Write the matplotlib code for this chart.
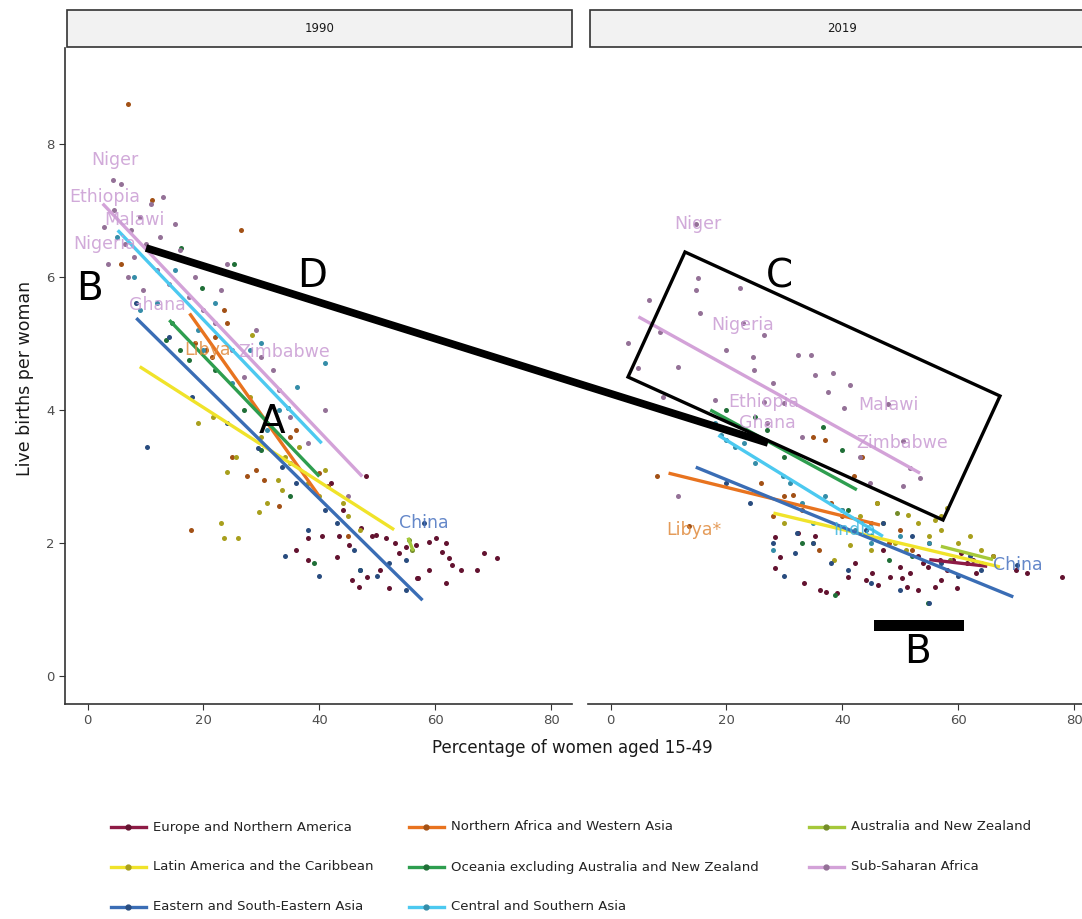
import matplotlib
matplotlib.use("Agg")
import matplotlib.pyplot as plt
import matplotlib.colors as mcolors
from matplotlib.lines import Line2D
from matplotlib.patches import Rectangle, Polygon

# ---- data (x = % of women aged 15-49, y = live births per woman)
regions = ["Europe and Northern America", "Northern Africa and Western Asia",
           "Australia and New Zealand", "Latin America and the Caribbean",
           "Oceania excluding Australia and New Zealand", "Sub-Saharan Africa",
           "Eastern and South-Eastern Asia", "Central and Southern Asia"]
colors = ["#8E1B45", "#E8731F", "#A5C83A", "#F0E32A",
          "#2E9E4F", "#D3A2D8", "#3A6DB5", "#4CC9F0"]

europe_1990 = [(38, 2.07), (40.5, 2.1), (43.4, 2.1), (45.2, 1.97), (47.2, 2.22), (49, 2.1),
               (49.8, 2.12), (51.5, 2.07), (43.1, 1.79), (38, 1.74), (45.7, 1.44), (46.9, 1.34),
               (48.3, 1.49), (52, 1.32), (56.9, 1.47), (53.8, 1.85), (55, 1.94), (56.7, 1.97),
               (59, 2.02), (60.2, 2.07), (61.9, 2.0), (61.2, 1.87), (62.4, 1.77), (62.9, 1.67),
               (64.5, 1.6), (59, 1.6), (61.9, 1.4), (68.4, 1.85), (70.7, 1.77), (67.2, 1.6),
               (57, 1.47), (48, 3.0), (44, 2.5), (42, 2.9), (36, 1.9), (50.5, 1.6), (53, 2.0)]
nawa_1990 = [(6.9, 8.6), (26.5, 6.7), (11.2, 7.15), (5.8, 6.2), (23.5, 5.5), (24, 5.3),
             (20.5, 4.9), (21.5, 4.8), (18.5, 5.0), (29, 3.1), (30.5, 2.95), (27.5, 3.0),
             (35, 3.6), (36, 3.7), (40, 3.05), (41.5, 2.85), (17.9, 2.2), (25, 3.3),
             (33, 2.55), (45, 2.1), (22, 5.1)]
ausnz_1990 = [(55.5, 2.05), (56, 1.9)]
latin_1990 = [(21.6, 3.9), (25.6, 3.3), (24, 3.07), (29.6, 2.47), (32.8, 2.95), (23.6, 2.07),
              (25.9, 2.07), (23, 2.3), (36.5, 3.45), (37.4, 3.05), (28.4, 5.13), (31, 2.6),
              (33.5, 2.8), (35, 3.2), (38, 2.9), (40, 2.7), (44, 2.6), (45, 2.4), (47, 2.2),
              (41, 3.1), (30, 3.6), (34, 3.3), (28, 4.2), (19, 3.8)]
oceania_1990 = [(16.2, 6.43), (19.8, 5.83), (13.5, 5.05), (14.5, 5.3), (16, 4.9), (17.5, 4.75),
                (25.3, 6.2), (22, 4.6), (27, 4.0), (30, 3.4), (35, 2.7), (39, 1.7), (47, 1.6)]
ssa_1990 = [(2.9, 6.75), (4.4, 7.46), (5.8, 7.4), (3.5, 6.2), (4.5, 7.0), (6.5, 6.5), (7, 6.0),
            (7.5, 6.7), (8, 6.3), (9, 6.9), (10, 6.5), (11, 7.1), (12, 6.1), (12.5, 6.6),
            (13, 7.2), (14, 5.9), (15, 6.8), (16, 6.4), (17.5, 5.7), (20, 5.5), (22, 5.3),
            (24, 6.2), (25, 4.9), (27, 4.5), (30, 4.8), (33, 4.3), (35, 3.9), (38, 3.5),
            (41, 4.0), (45, 2.7), (29, 5.2), (9.5, 5.8), (18.5, 6.0), (32, 4.6), (23, 5.8)]
east_asia_1990 = [(8.4, 5.6), (10.2, 3.45), (14, 5.1), (29.4, 3.43), (33.6, 3.14), (36, 2.9),
                  (41, 2.5), (43, 2.3), (38, 2.2), (46, 1.9), (47, 1.6), (50, 1.5), (55, 1.3),
                  (55, 1.75), (58, 2.3), (34, 1.8), (40, 1.5), (52, 1.7), (18, 4.2), (24, 3.8)]
central_asia_1990 = [(5, 6.6), (8, 6.0), (9, 5.5), (15, 6.1), (19, 5.2), (28, 4.9), (30, 5.0),
                     (36.2, 4.35), (34.5, 4.03), (40.9, 4.7), (33, 4.0), (25, 4.4), (31, 3.7),
                     (20, 4.9), (12, 5.6), (22, 5.6)]

europe_2019 = [(28.3, 2.09), (29.3, 1.79), (28.4, 1.62), (32.4, 2.15), (35.3, 2.1), (37.1, 1.26),
               (33.3, 1.4), (36.2, 1.29), (39, 1.25), (45.2, 1.55), (46.2, 1.37), (50, 1.64),
               (50.3, 1.47), (51.7, 1.55), (53.1, 1.29), (54.7, 1.64), (56, 1.34), (54, 1.7),
               (51.2, 1.34), (59.8, 1.32), (56.9, 1.74), (59.1, 1.74), (61.5, 1.7), (62.6, 1.74),
               (71.9, 1.55), (77.9, 1.49), (48.3, 1.49), (42.2, 1.7), (41, 1.49), (58, 1.6),
               (60.5, 1.85), (64, 1.7), (66, 1.8), (53, 1.8), (47, 1.9), (44, 1.45), (57, 1.45),
               (63, 1.55), (70, 1.6)]
nawa_2019 = [(13.5, 2.25), (31.4, 2.72), (35, 3.6), (37, 3.55), (43.4, 3.3), (40, 2.4),
             (45, 2.3), (50, 2.2), (38, 2.6), (33, 2.5), (52, 1.9), (48, 2.0), (26, 2.9),
             (30, 2.7), (28, 2.4), (36, 1.9), (42, 3.0), (55, 2.0), (46, 2.6), (8, 3.0)]
ausnz_2019 = [(49.5, 2.45), (58.5, 1.75)]
latin_2019 = [(51.4, 2.42), (56, 2.35), (58, 2.52), (38.5, 1.74), (41.4, 1.97), (43, 2.4),
              (47, 2.3), (53, 2.3), (55, 2.1), (57, 2.4), (60, 2.0), (62, 2.1), (64, 1.9),
              (45, 1.9), (49, 2.0), (57, 2.2), (51, 1.9), (30, 2.3), (40, 2.5), (66, 1.8),
              (35, 2.0), (46, 2.6)]
oceania_2019 = [(36.6, 3.75), (54.7, 1.1), (38.8, 1.22), (25, 3.9), (41, 2.5), (45, 2.1),
                (52, 1.8), (33, 2.0), (30, 3.3), (20, 4.0), (27, 3.7), (40, 3.4), (48, 1.75)]
ssa_2019 = [(14.7, 6.8), (15, 5.98), (14.7, 5.8), (22.4, 5.83), (6.6, 5.65), (15.5, 5.46),
            (26.4, 5.13), (24.5, 4.8), (32.4, 4.83), (34.5, 4.83), (11.6, 4.65), (4.8, 4.63),
            (8.6, 5.17), (24.7, 4.6), (28.1, 4.4), (35.3, 4.53), (38.3, 4.56), (37.6, 4.27),
            (18.1, 4.15), (41.4, 4.38), (40.2, 4.03), (43.1, 3.29), (50.5, 2.85), (53.4, 2.98),
            (44.8, 2.9), (51.7, 3.13), (22.8, 5.3), (26.4, 4.12), (47.9, 4.09), (50.5, 3.53),
            (20, 4.9), (30, 4.1), (33, 3.6), (9, 4.2), (3, 5.0), (11.6, 2.7), (27, 3.8)]
east_asia_2019 = [(32.2, 2.15), (31.9, 1.85), (28, 2.0), (35, 2.0), (38, 1.7), (41, 1.6),
                  (45, 1.4), (50, 1.3), (55, 1.1), (57, 1.7), (60, 1.5), (52, 2.1), (62, 1.8),
                  (70.2, 1.67), (44, 2.2), (47, 2.3), (24, 2.6), (20, 2.9), (30, 1.5), (64, 1.6)]
central_asia_2019 = [(19, 3.62), (20, 3.55), (21.5, 3.45), (23, 3.5), (25, 3.2), (29.8, 3.0),
                     (33, 2.6), (37, 2.7), (40, 2.5), (42.2, 2.2), (45, 2.0), (50, 2.1),
                     (55, 2.0), (35, 2.3), (28, 1.9), (18, 3.8), (31, 2.9)]

points_1990 = [europe_1990, nawa_1990, ausnz_1990, latin_1990,
               oceania_1990, ssa_1990, east_asia_1990, central_asia_1990]
points_2019 = [europe_2019, nawa_2019, ausnz_2019, latin_2019,
               oceania_2019, ssa_2019, east_asia_2019, central_asia_2019]

# fitted lines: (x0, y0, x1, y1), None = not visible
fits_1990 = [None, (17.6, 5.45, 40, 2.7), (55.3, 2.08, 56.2, 1.88), (9.0, 4.65, 52.9, 2.2),
             (14.1, 5.35, 40, 3.0), (2.6, 7.1, 47.4, 3.0), (8.4, 5.38, 57.8, 1.14),
             (5.2, 6.7, 40.4, 3.5)]
fits_2019 = [(55, 1.75, 65, 1.65), (10, 3.05, 46.5, 2.27), (57, 1.95, 66, 1.75),
             (28.1, 2.45, 67.2, 1.64), (17.2, 4.0, 42.5, 2.8), (4.8, 5.4, 53.4, 3.05),
             (14.7, 3.14, 69.5, 1.19), (18.6, 3.62, 47, 2.1)]

# country labels: (text, x, y, region index)
labels_1990 = [("Niger", 4.7, 7.76, 5), ("Ethiopia", 2.9, 7.2, 5), ("Malawi", 8.1, 6.86, 5),
               ("Nigeria", 2.9, 6.5, 5), ("Ghana", 12.1, 5.58, 5), ("Libya", 20.7, 4.9, 1),
               ("Zimbabwe", 34, 4.87, 5), ("China", 58, 2.3, 6)]
labels_2019 = [("Niger", 15, 6.8, 5), ("Nigeria", 22.8, 5.28, 5), ("Ethiopia", 26.4, 4.12, 5),
               ("Ghana", 27, 3.8, 5), ("Malawi", 47.9, 4.08, 5), ("Zimbabwe", 50.3, 3.5, 5),
               ("Libya*", 14.3, 2.2, 1), ("India", 42.2, 2.2, 7), ("China", 70.2, 1.67, 6)]

years = ["1990", "2019"]

# overlay annotations in figure pixels (from top-left)
ann_letters = [("A", 272, 433), ("B", 89, 300), ("B", 917, 663), ("C", 779, 288), ("D", 312, 287)]
ann_line = [(146, 248), (768, 443)]
ann_box = [(685, 252), (1000, 396), (943, 520), (628, 377)]
ann_bar = (874, 620, 90, 11)

W, H = 1082, 919


def fx(px):
    return px / W


def fy(py):
    return 1 - py / H


def darker(c, f=0.35):
    r, g, b = mcolors.to_rgb(c)
    return (r * (1 - f), g * (1 - f), b * (1 - f))


fig = plt.figure(figsize=(W / 100, H / 100), dpi=100)
panel_left = [65, 588]
panel_w = 507
ax_top, ax_bot = 48, 704

label_colors = {5: "#C99BD3", 1: "#E08A3C", 6: "#4A73C0", 7: "#3FB7E0"}

for i, (pts, fits, labs) in enumerate(zip([points_1990, points_2019], [fits_1990, fits_2019],
                                           [labels_1990, labels_2019])):
    ax = fig.add_axes([fx(panel_left[i]), fy(ax_bot), panel_w / W, (ax_bot - ax_top) / H])
    for r, p in enumerate(pts):
        xs = [a for a, b in p]
        ys = [b for a, b in p]
        ax.scatter(xs, ys, s=13, color=darker(colors[r], 0.3), linewidths=0, zorder=2)
    for r, f in enumerate(fits):
        if f is None:
            continue
        ax.plot([f[0], f[2]], [f[1], f[3]], color=colors[r], lw=2.4, zorder=3,
                solid_capstyle="butt")
    for t, x, y, r in labs:
        ax.text(x, y, t, color=label_colors[r], fontsize=12.5, ha="center", va="center",
                alpha=0.85, zorder=4)
    ax.set_xlim(-3.9, 83.6)
    ax.set_ylim(-0.42, 9.44)
    ax.set_xticks([0, 20, 40, 60, 80])
    ax.set_yticks([0, 2, 4, 6, 8])
    for s in ["top", "right"]:
        ax.spines[s].set_visible(False)
    ax.spines["bottom"].set_color("#333333")
    ax.spines["bottom"].set_linewidth(1.2)
    ax.tick_params(colors="#333333", labelcolor="#4d4d4d", labelsize=9.5, length=4)
    if i == 0:
        ax.spines["left"].set_color("#333333")
        ax.spines["left"].set_linewidth(1.2)
    else:
        ax.spines["left"].set_visible(False)
        ax.tick_params(axis="y", left=False, labelleft=False)
    # facet strip
    fig.add_artist(Rectangle((fx(panel_left[i] + 2), fy(47)), (panel_w - 2) / W, 37 / H,
                             transform=fig.transFigure, facecolor="#F2F2F2",
                             edgecolor="#333333", lw=1.2))
    fig.text(fx(panel_left[i] + 2 + (panel_w - 2) / 2), fy(29), years[i], ha="center",
             va="center", fontsize=8.5, color="#1a1a1a")

fig.text(fx(25), fy(378), "Live births per woman", rotation=90, ha="center", va="center",
         fontsize=12.5, color="#1a1a1a")
fig.text(fx(572), fy(748), "Percentage of women aged 15-49", ha="center", va="center",
         fontsize=12, color="#1a1a1a")

# legend, filled row by row as in the reference
leg_rows = [827, 867, 907]
leg_cols = [111, 409, 809]
for k, name in enumerate(regions):
    row, col = divmod(k, 3)
    x0, y0 = leg_cols[col], leg_rows[row]
    fig.add_artist(Line2D([fx(x0), fx(x0 + 35)], [fy(y0), fy(y0)], transform=fig.transFigure,
                          color=colors[k], lw=2.4))
    fig.add_artist(Line2D([fx(x0 + 17)], [fy(y0)], transform=fig.transFigure, marker="o",
                          ms=3.5, color=darker(colors[k], 0.3), lw=0))
    fig.text(fx(x0 + 42), fy(y0), name, ha="left", va="center", fontsize=9.5, color="#222222")

# overlay annotations
for t, px, py in ann_letters:
    fig.text(fx(px), fy(py), t, ha="center", va="baseline", fontsize=28, color="black")
fig.add_artist(Line2D([fx(ann_line[0][0]), fx(ann_line[1][0])],
                      [fy(ann_line[0][1]), fy(ann_line[1][1])],
                      transform=fig.transFigure, color="black", lw=5.5, solid_capstyle="butt"))
fig.add_artist(Polygon([(fx(a), fy(b)) for a, b in ann_box], closed=True, fill=False,
                       transform=fig.transFigure, edgecolor="black", lw=2.4))
bx, by, bw, bh = ann_bar
fig.add_artist(Rectangle((fx(bx), fy(by + bh)), bw / W, bh / H, transform=fig.transFigure,
                         facecolor="black", edgecolor="none"))

fig.savefig("out.png", dpi=100)
